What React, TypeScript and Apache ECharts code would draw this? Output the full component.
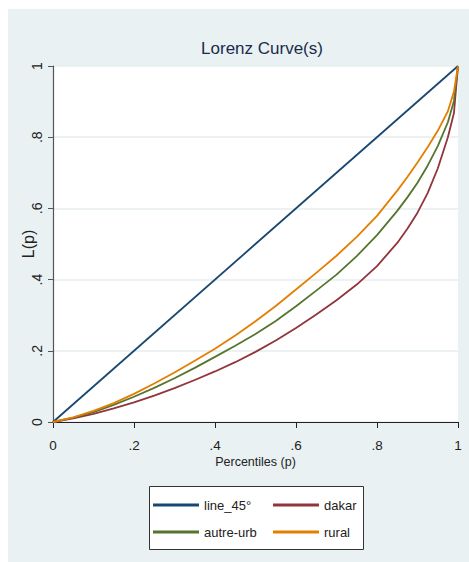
import React, { useEffect, useRef } from "react";
import * as echarts from "echarts";

const P = [0, 0.05, 0.1, 0.15, 0.2, 0.25, 0.3, 0.35, 0.4, 0.45, 0.5, 0.55, 0.6, 0.65, 0.7, 0.75, 0.8, 0.85, 0.875, 0.9, 0.925, 0.95, 0.975, 0.99, 1];
const DAKAR = [0, 0.010, 0.023, 0.038, 0.055, 0.074, 0.095, 0.118, 0.142, 0.168, 0.197, 0.229, 0.264, 0.302, 0.342, 0.386, 0.438, 0.503, 0.543, 0.588, 0.643, 0.712, 0.800, 0.868, 1];
const AUTRE_URB = [0, 0.012, 0.028, 0.048, 0.071, 0.096, 0.123, 0.152, 0.183, 0.214, 0.247, 0.284, 0.325, 0.369, 0.414, 0.466, 0.525, 0.593, 0.631, 0.672, 0.720, 0.775, 0.842, 0.902, 1];
const RURAL = [0, 0.013, 0.031, 0.053, 0.079, 0.108, 0.139, 0.172, 0.206, 0.243, 0.283, 0.326, 0.372, 0.419, 0.467, 0.520, 0.579, 0.650, 0.688, 0.729, 0.772, 0.818, 0.873, 0.928, 1];
const LINE45_X = [0, 1];
const LINE45_Y = [0, 1];
const TICK_LABELS = ["0", ".2", ".4", ".6", ".8", "1"];

const FONT = "'Liberation Sans', Arial, sans-serif";
const TXT = "#222222";

const pairs = (xs: number[], ys: number[]) => xs.map((x, i) => [x, ys[i]]);
const tickFmt = (v: number) => TICK_LABELS[Math.round(v * 5)] ?? "";

export default function App() {
  const ref = useRef<HTMLDivElement>(null);
  useEffect(() => {
    if (!ref.current) return;
    const chart = echarts.init(ref.current, null, { renderer: "svg" });
    const lineSeries = (name: string, color: string, xs: number[], ys: number[]) => ({
      name,
      type: "line",
      data: pairs(xs, ys),
      symbol: "none",
      showSymbol: false,
      smooth: false,
      lineStyle: { color, width: 1.8, join: "round" },
      itemStyle: { color },
    });
    const legendBase = {
      orient: "vertical",
      top: 497,
      icon: "rect",
      itemWidth: 46,
      itemHeight: 3,
      itemGap: 11,
      padding: 0,
      selectedMode: false,
      itemStyle: { borderWidth: 0 },
      textStyle: { fontSize: 13, color: TXT, fontFamily: FONT, lineHeight: 16 },
    };
    chart.setOption({
      animation: false,
      backgroundColor: "#e9f1f3",
      textStyle: { fontFamily: FONT },
      title: {
        text: "Lorenz Curve(s)",
        left: 257,
        top: 35,
        textAlign: "center",
        textStyle: { fontSize: 17, fontWeight: "normal", color: "#1b2b4b", fontFamily: FONT },
      },
      graphic: [
        { type: "rect", shape: { x: 0, y: 0, width: 469, height: 9 }, style: { fill: "#ffffff" }, silent: true },
        { type: "rect", shape: { x: 0, y: 0, width: 8, height: 562 }, style: { fill: "#ffffff" }, silent: true },
        {
          type: "rect",
          shape: { x: 149.5, y: 486.5, width: 214, height: 63 },
          style: { fill: "#ffffff", stroke: "#333333", lineWidth: 1 },
          silent: true,
          z: 1,
        },
      ],
      grid: {
        left: 53,
        right: 11,
        top: 66,
        bottom: 140,
        show: true,
        backgroundColor: "#ffffff",
        borderWidth: 0,
        containLabel: false,
      },
      xAxis: {
        type: "value",
        min: 0,
        max: 1,
        interval: 0.2,
        name: "Percentiles (p)",
        nameLocation: "middle",
        nameGap: 33,
        nameMoveOverlap: false,
        nameTextStyle: { fontSize: 12.5, color: TXT, fontFamily: FONT },
        axisLine: { show: true, lineStyle: { color: "#222222", width: 1.2 } },
        axisTick: { show: true, length: 6, lineStyle: { color: "#222222", width: 1 } },
        axisLabel: { formatter: tickFmt, fontSize: 13.5, color: TXT, margin: 16, fontFamily: FONT },
        splitLine: { show: false },
      },
      yAxis: {
        type: "value",
        min: 0,
        max: 1,
        interval: 0.2,
        name: "L(p)",
        nameLocation: "middle",
        nameGap: 17,
        nameRotate: 90,
        nameMoveOverlap: false,
        nameTextStyle: { fontSize: 16, color: TXT, fontFamily: FONT },
        axisLine: { show: true, lineStyle: { color: "#555555", width: 1.2 } },
        axisTick: { show: true, length: 5, lineStyle: { color: "#555555", width: 1 } },
        axisLabel: { formatter: tickFmt, fontSize: 14, color: TXT, margin: 9, rotate: 90, fontFamily: FONT, hideOverlap: false },
        splitLine: { show: true, lineStyle: { color: "#e6eef1", width: 1.5 } },
      },
      legend: [
        { ...legendBase, left: 153, data: ["line_45°", "autre-urb"] },
        { ...legendBase, left: 273, data: ["dakar", "rural"] },
      ],
      series: [
        lineSeries("line_45°", "#1a476f", LINE45_X, LINE45_Y),
        lineSeries("dakar", "#90353b", P, DAKAR),
        lineSeries("autre-urb", "#55752f", P, AUTRE_URB),
        lineSeries("rural", "#e37e00", P, RURAL),
      ],
    });
    return () => chart.dispose();
  }, []);
  return <div ref={ref} style={{ position: "absolute", left: 0, top: 0, width: 469, height: 562 }} />;
}
